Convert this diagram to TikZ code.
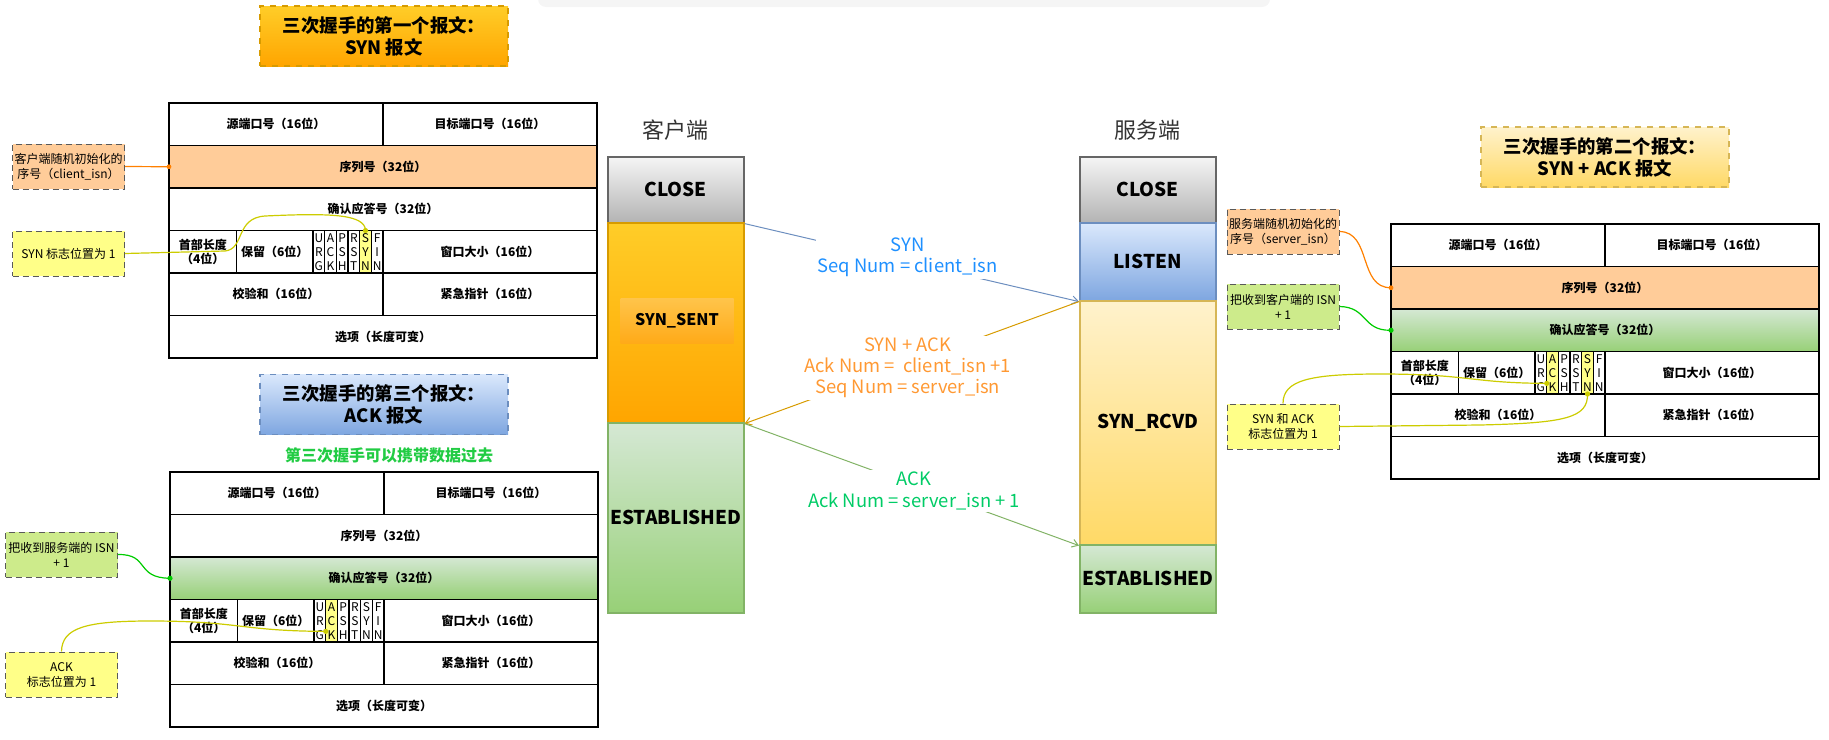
\documentclass[tikz,border=0pt]{standalone}
\usepackage{fontspec}
\setmainfont{Noto Sans CJK SC}
\usetikzlibrary{shadings,arrows.meta,calc}

\definecolor{seqorange}{HTML}{FFCC99}
\definecolor{ackgreenA}{HTML}{D5E8D4}
\definecolor{ackgreenB}{HTML}{97D077}
\definecolor{flagyellow}{HTML}{FFFF88}
\definecolor{notegreen}{HTML}{CDEB8B}
\definecolor{closetop}{HTML}{F5F5F5}
\definecolor{closebot}{HTML}{B3B3B3}
\definecolor{orgtop}{HTML}{FFCD28}
\definecolor{orgbot}{HTML}{FFA500}
\definecolor{orgline}{HTML}{D79B00}
\definecolor{senttop}{HTML}{FFC44A}
\definecolor{sentbot}{HTML}{FFAA18}
\definecolor{bluetop}{HTML}{DAE8FC}
\definecolor{bluebot}{HTML}{7EA6E0}
\definecolor{blueline}{HTML}{6C8EBF}
\definecolor{yeltop}{HTML}{FFF2CC}
\definecolor{yelbot}{HTML}{FFD966}
\definecolor{yelline}{HTML}{D6B656}
\definecolor{grnline}{HTML}{82B366}
\definecolor{syntext}{HTML}{1E90FF}
\definecolor{synacktext}{HTML}{FF9933}
\definecolor{acktext}{HTML}{00CC66}
\definecolor{curveyellow}{HTML}{CCCC00}
\definecolor{curveorange}{HTML}{FF8000}
\definecolor{curvegreen}{HTML}{00CC00}
\definecolor{carrygreen}{HTML}{22CC44}

\tikzset{
  cell/.style={draw, line width=0.75pt, inner sep=0pt, outer sep=0pt, minimum height=21.25pt,
    anchor=north west, align=center, font=\fontsize{6}{7.2}\selectfont\bfseries},
  flagcell/.style={cell, minimum width=5.833pt, font=\fontsize{6}{7}\selectfont},
  note/.style={draw=black!65, densely dashed, line width=0.5pt, minimum width=56pt,
    minimum height=22.5pt, inner sep=1pt, align=center, font=\fontsize{6}{7.5}\selectfont},
  titlebox/.style={draw, dashed, line width=0.6pt, minimum width=124pt, minimum height=30pt,
    align=center, font=\fontsize{9.2}{11}\selectfont\bfseries},
  state/.style={draw, line width=0.8pt, minimum width=68pt, inner sep=0pt, anchor=north west,
    font=\fontsize{9.5}{11}\selectfont\bfseries},
  msg/.style={fill=white, align=center, inner sep=1pt, font=\fontsize{9.2}{10.6}\selectfont},
  link/.style={line width=0.5pt, -{Straight Barb[length=3pt,width=4pt]}},
  hook/.style={line width=0.6pt}
}

% #1 name, #2 top left, #3 seq row, #4 ack row, #5 flags set to 1
\newcommand{\tcphdr}[5]{%
\begin{scope}[shift={#2}]
  \foreach \k in {#5} {\fill[flagyellow] ({144+11.667*(\k-1)},127.5) rectangle +(11.667,42.5);}
  \node[cell, minimum width=107pt] (#1-src) at (0,0) {源端口号（16位）};
  \node[cell, minimum width=107pt] (#1-dst) at (214,0) {目标端口号（16位）};
  \node[cell, minimum width=214pt, #3] (#1-seq) at (0,42.5) {序列号（32位）};
  \node[cell, minimum width=214pt, #4] (#1-ack) at (0,85) {确认应答号（32位）};
  \node[cell, minimum width=33.75pt] (#1-len) at (0,127.5) {首部长度\\（4位）};
  \node[cell, minimum width=38.25pt] (#1-rsv) at (67.5,127.5) {保留（6位）};
  \foreach \fu/\fv/\fw [count=\i] in {U/R/G,A/C/K,P/S/H,R/S/T,S/Y/N,F/I/N}
    \node[flagcell] (#1-f\i) at ({144+11.667*(\i-1)},127.5) {\fu\\\fv\\\fw};
  \node[cell, minimum width=107pt] (#1-win) at (214,127.5) {窗口大小（16位）};
  \node[cell, minimum width=107pt] (#1-sum) at (0,170) {校验和（16位）};
  \node[cell, minimum width=107pt] (#1-urg) at (214,170) {紧急指针（16位）};
  \node[cell, minimum width=214pt] (#1-opt) at (0,212.5) {选项（长度可变）};
\end{scope}}

\begin{document}
\begin{tikzpicture}[x=0.5pt, y=-0.5pt]
  \useasboundingbox (0,0) rectangle (1829,739);
  \fill[black!4, rounded corners=4pt] (538,-10) rectangle (1270,7);

  \node[titlebox, draw=orgline, top color=orgtop, bottom color=orgbot] (title1) at (384,36)
    {三次握手的第一个报文：\\SYN 报文};
  \node[titlebox, draw=yelline, top color=yeltop, bottom color=yelbot] (title2) at (1605,157)
    {三次握手的第二个报文：\\SYN + ACK 报文};
  \node[titlebox, draw=blueline, top color=bluetop, bottom color=bluebot] (title3) at (384,404.5)
    {三次握手的第三个报文：\\ACK 报文};
  \node[text=carrygreen, font=\fontsize{8}{10}\selectfont\bfseries] (carry) at (389,455)
    {第三次握手可以携带数据过去};

  \tcphdr{t1}{(169,103)}{fill=seqorange}{}{5}
  \tcphdr{t2}{(1391,224)}{fill=seqorange}{top color=ackgreenA, bottom color=ackgreenB}{2,5}
  \tcphdr{t3}{(170,472)}{}{top color=ackgreenA, bottom color=ackgreenB}{2}

  \node[note, fill=seqorange] (note1) at (68.5,166.5) {客户端随机初始化的\\序号（client\_isn）};
  \node[note, fill=flagyellow] (note2) at (68.5,253.5) {SYN 标志位置为 1};
  \node[note, fill=notegreen] (note3) at (61.5,554.5) {把收到服务端的 ISN\\+ 1};
  \node[note, fill=flagyellow] (note4) at (61.5,674.5) {ACK\\标志位置为 1};
  \node[note, fill=seqorange] (note5) at (1283,231.5) {服务端随机初始化的\\序号（server\_isn）};
  \node[note, fill=notegreen] (note6) at (1283,306.5) {把收到客户端的 ISN\\+ 1};
  \node[note, fill=flagyellow] (note7) at (1283,426.5) {SYN 和 ACK\\标志位置为 1};

  \coordinate (t3a) at ($(t3-f2.south west)!0.25!(t3-f2.north west)$);
  \coordinate (t2a) at ($(t2-f2.south west)!0.25!(t2-f2.north west)$);

  \draw[hook, draw=curveorange] (note1.east) -- (t1-seq.west);
  \fill[curveorange] (t1-seq.west) circle (1.2pt);
  \draw[hook, draw=curveyellow] (note2.east) -- (225,251) .. controls (245,249) and (235,218) .. (265,216)
    .. controls (330,213) and (365,214) .. (t1-f5.north);
  \fill[curveyellow] (t1-f5.north) circle (1.3pt);
  \draw[hook, draw=curvegreen] (note3.east) .. controls (150,554) and (135,578) .. (t3-ack.west);
  \fill[curvegreen] (t3-ack.west) circle (1.3pt);
  \draw[hook, draw=curveyellow] (note4.north) .. controls (62,628) and (85,621) .. (150,621)
    .. controls (240,621) and (240,631) .. (t3a);
  \fill[curveyellow] (t3a) circle (1.3pt);
  \draw[hook, draw=curveorange] (note5.east) .. controls (1372,232) and (1358,288) .. (t2-seq.west);
  \fill[curveorange] (t2-seq.west) circle (1.2pt);
  \draw[hook, draw=curvegreen] (note6.east) .. controls (1368,307) and (1362,331) .. (t2-ack.west);
  \fill[curvegreen] (t2-ack.west) circle (1.3pt);
  \draw[hook, draw=curveyellow] (note7.north) .. controls (1283,380) and (1310,374) .. (1380,374)
    .. controls (1470,374) and (1470,383) .. (t2a);
  \fill[curveyellow] (t2a) circle (1.3pt);
  \draw[hook, draw=curveyellow] (note7.east) -- (1480,425) .. controls (1565,423) and (1588,418) .. (t2-f5.south);
  \fill[curveyellow] (t2-f5.south) circle (1.3pt);

  \node[text=black!80, font=\fontsize{11}{13}\selectfont] (client) at (675,130) {客户端};
  \node[text=black!80, font=\fontsize{11}{13}\selectfont] (server) at (1147,130) {服务端};

  \node[state, minimum height=33pt, draw=black!60, top color=closetop, bottom color=closebot] (cclose) at (607,156) {CLOSE};
  \node[state, minimum height=100pt, draw=orgline, top color=orgtop, bottom color=orgbot] (csent) at (607,222) {};
  \node[minimum width=56.5pt, minimum height=22.5pt, top color=senttop, bottom color=sentbot,
    font=\fontsize{8}{10}\selectfont\bfseries] (csentlbl) at (677,321) {SYN\_SENT};
  \node[state, minimum height=95pt, draw=grnline, top color=ackgreenA, bottom color=ackgreenB] (cest) at (607,422) {ESTABLISHED};

  \node[state, minimum height=33pt, draw=black!60, top color=closetop, bottom color=closebot] (sclose) at (1079,156) {CLOSE};
  \node[state, minimum height=39pt, draw=blueline, top color=bluetop, bottom color=bluebot] (slisten) at (1079,222) {LISTEN};
  \node[state, minimum height=122pt, draw=yelline, top color=yeltop, bottom color=yelbot] (srcvd) at (1079,300) {SYN\_RCVD};
  \node[state, minimum height=34pt, draw=grnline, top color=ackgreenA, bottom color=ackgreenB] (sest) at (1079,544) {ESTABLISHED};

  \draw[link, draw=blueline] (cclose.south east) -- (slisten.south west);
  \draw[link, draw=orgline] (slisten.south west) -- (csent.south east);
  \draw[link, draw=grnline] (csent.south east) -- (srcvd.south west);
  \node[msg, text=syntext] (synmsg) at (907.6,257) {SYN\\Seq Num = client\_isn};
  \node[msg, text=synacktext] (synackmsg) at (907.6,368) {SYN + ACK\\Ack Num = \ client\_isn +1\\Seq Num = server\_isn};
  \node[msg, text=acktext] (ackmsg) at (914,491) {ACK\\Ack Num = server\_isn + 1};
\end{tikzpicture}
\end{document}
